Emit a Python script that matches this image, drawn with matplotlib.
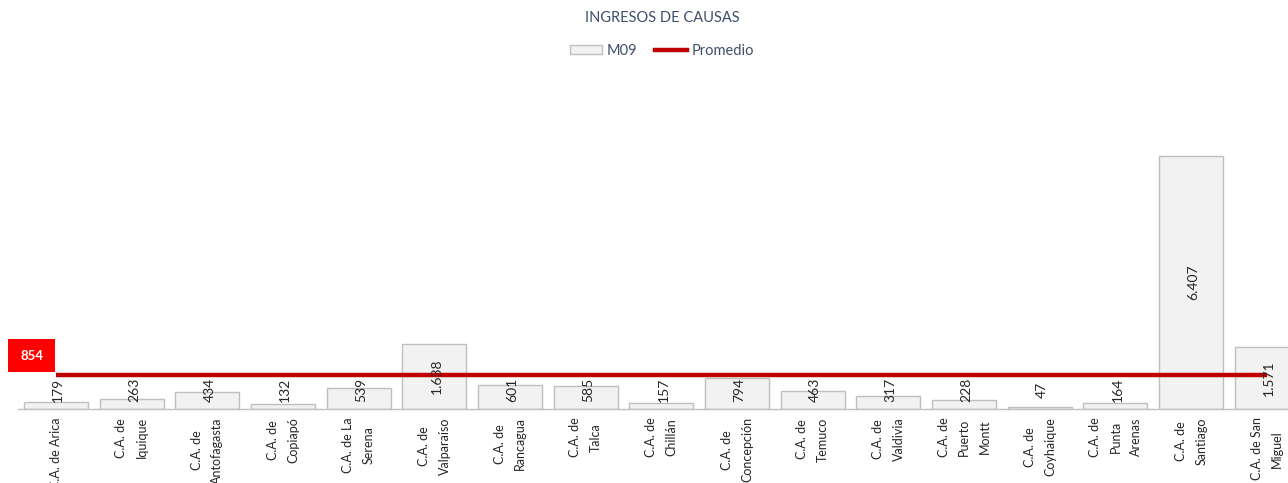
import matplotlib
matplotlib.use("Agg")
import matplotlib.pyplot as plt
from matplotlib.patches import Rectangle, Patch
from matplotlib.lines import Line2D
from matplotlib.transforms import IdentityTransform, ScaledTranslation

categories = ["C.A. de Arica", "C.A. de\nIquique", "C.A. de\nAntofagasta", "C.A. de\nCopiapó",
              "C.A. de La\nSerena", "C.A. de\nValparaíso", "C.A. de\nRancagua", "C.A. de\nTalca",
              "C.A. de\nChillán", "C.A. de\nConcepción", "C.A. de\nTemuco", "C.A. de\nValdivia",
              "C.A. de\nPuerto\nMontt", "C.A. de\nCoyhaique", "C.A. de\nPunta\nArenas",
              "C.A. de\nSantiago", "C.A. de San\nMiguel"]
values = [179, 263, 434, 132, 539, 1638, 601, 585, 157, 794, 463, 317, 228, 47, 164, 6407, 1571]
value_labels = ["179", "263", "434", "132", "539", "1.638", "601", "585", "157", "794",
                "463", "317", "228", "47", "164", "6.407", "1.571"]
average = 854
average_label = "854"
title = "INGRESOS DE CAUSAS"
series_name = "M09"
avg_name = "Promedio"

W, H = 1288, 483
fig = plt.figure(figsize=(W / 100, H / 100), dpi=100)
plt.rcParams['font.family'] = ['Lato', 'DejaVu Sans']

# axes from x=18px to right edge, baseline at y=409px
ax_left = 18 / W
ax_bottom = (H - 409) / H
ax_top_px = 100
ax = fig.add_axes([ax_left, ax_bottom, 1 - ax_left, (409 - ax_top_px) / H])

x = list(range(len(categories)))
ax.bar(x, values, width=0.846, color="#F2F2F2", edgecolor="#BFBFBF", linewidth=1.0, zorder=2)
ax.set_xlim(-0.5, 16.28)
ax.set_ylim(0, (409 - ax_top_px) / 0.0395)

for xi, v, lab in zip(x, values, value_labels):
    ax.text(xi + 0.03, max(v / 2, 480), lab, rotation=90, ha="center", va="center",
            fontsize=10, color="#262626", zorder=4)

ax.plot(x, [average] * len(x), color="#C00000", linewidth=3.2, zorder=3, solid_capstyle="butt")

# average label box
trans = IdentityTransform() + ScaledTranslation(0, average, ax.transData)
ax.add_patch(Rectangle((-48, 3), 47, 33, transform=trans, facecolor="#FF0000",
                       edgecolor="none", clip_on=False, zorder=5))
ax.text(-24, 19.5, average_label, transform=trans, ha="center", va="center",
        color="white", fontsize=9.5, fontweight="bold", zorder=6, clip_on=False)

ax.set_xticks(x)
ax.set_xticklabels(categories, rotation=90, ha="center", va="top", multialignment="center",
                   fontsize=9, color="#262626", linespacing=1.85)
ax.tick_params(axis="x", length=0, pad=6)
ax.set_yticks([])
for s in ["top", "right", "left"]:
    ax.spines[s].set_visible(False)
ax.spines["bottom"].set_color("#BFBFBF")
ax.spines["bottom"].set_linewidth(1.0)

fig.text(662 / W, 1 - 18 / H, title, ha="center", va="center", fontsize=10.5, color="#3B4E6B")

handles = [Patch(facecolor="#F2F2F2", edgecolor="#BFBFBF", label=series_name),
           Line2D([], [], color="#C00000", linewidth=3.2, label=avg_name)]
fig.legend(handles=handles, loc="center", bbox_to_anchor=(662 / W, 1 - 51 / H), ncol=2,
           frameon=False, fontsize=10.5, labelcolor="#3B4E6B", handlelength=2.2,
           handleheight=0.6, handletextpad=0.3, columnspacing=1.2)

fig.savefig("out.png", dpi=100)
